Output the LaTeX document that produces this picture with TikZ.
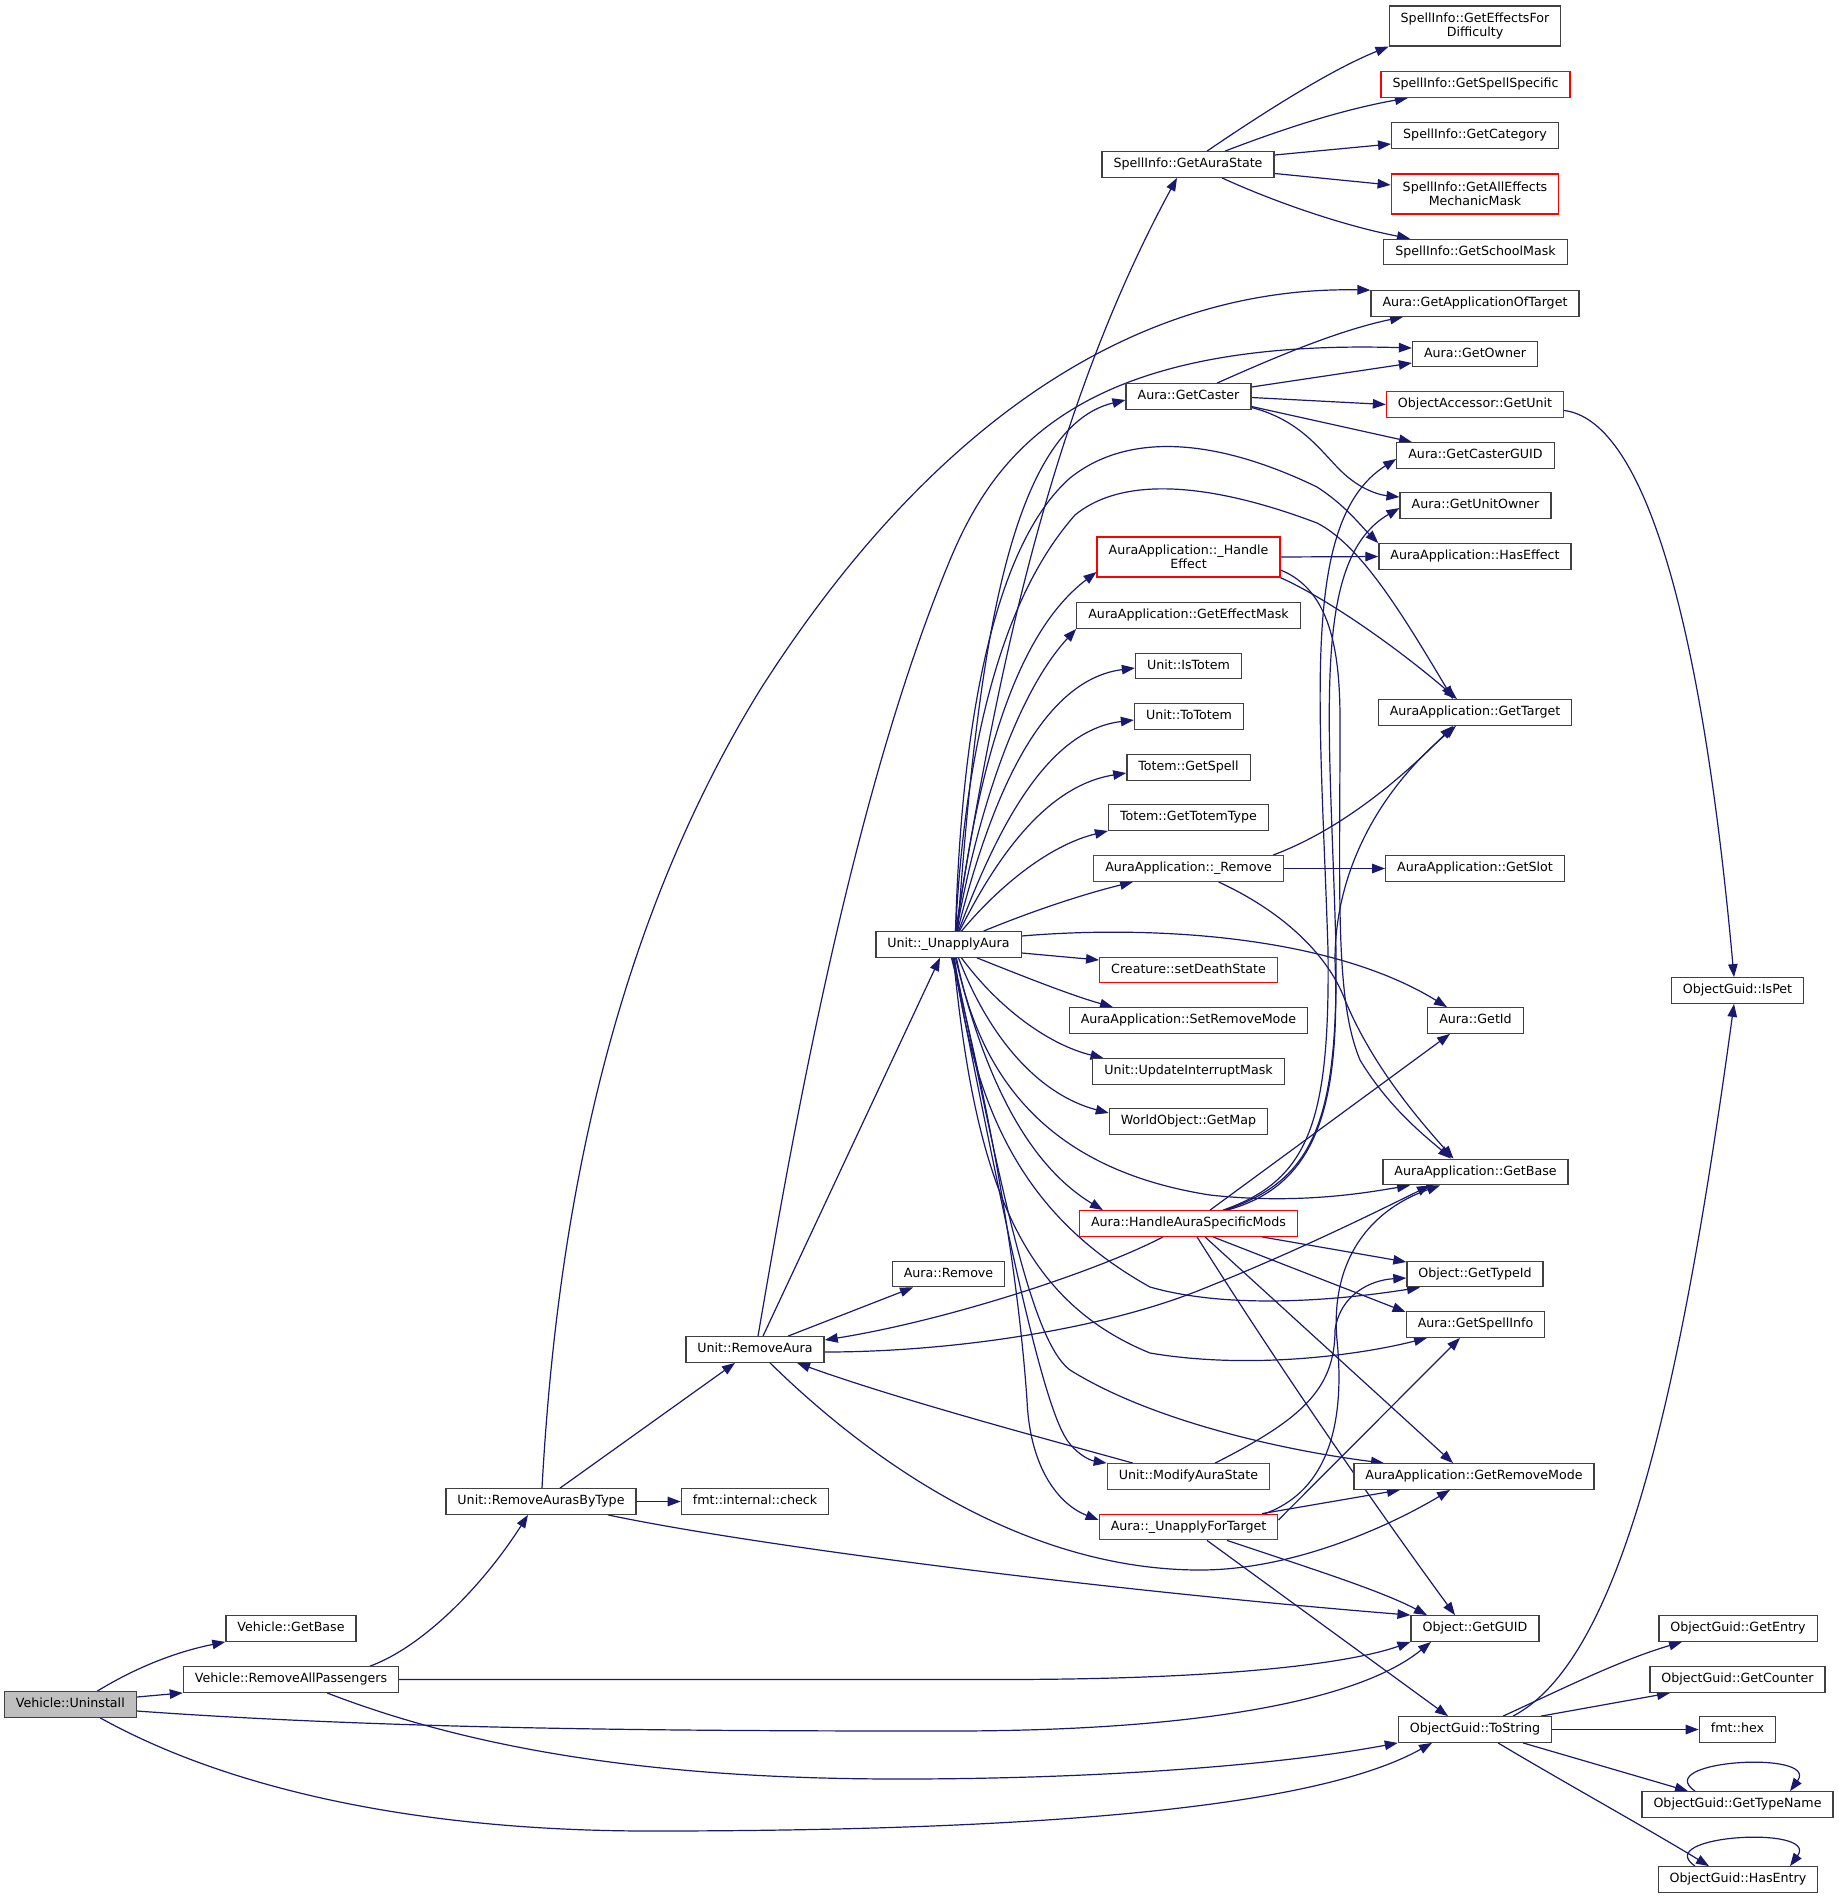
\documentclass[tikz,border=0pt]{standalone}
\usepackage{fontspec}
\setmainfont{DejaVu Sans}
\usetikzlibrary{arrows.meta,backgrounds}
\definecolor{navy}{HTML}{191970}
\definecolor{bgray}{HTML}{404040}
\definecolor{bred}{HTML}{FF0000}
\definecolor{gfill}{HTML}{BFBFBF}
\newcommand\dxfont{\fontsize{12.65pt}{14.5pt}\selectfont}
\tikzset{
 bx/.style={draw=bgray, line width=1.3pt, fill=white, inner xsep=11.5pt, inner ysep=0pt, font=\dxfont, align=center},
 box/.style={bx, minimum height=25.5pt, text height=9.5pt, text depth=2.7pt},
 rbox/.style={box, draw=bred},
 tbox/.style={bx, minimum height=40pt},
 trbox/.style={tbox, draw=bred},
 arr/.style={draw=navy, line width=1.2pt, -{Triangle[length=13pt,width=9.5pt]}},
}
\begin{document}
\begin{tikzpicture}[x=1pt,y=-1pt]
\useasboundingbox (0,0) rectangle (1839,1898);
% nodes
\node[box, fill=gfill] (uninst) at (70.3,1704.5) {Vehicle::Uninstall};
\node[box] (vgetbase) at (291,1628.5) {Vehicle::GetBase};
\node[box] (vrap) at (291,1679.5) {Vehicle::RemoveAllPassengers};
\node[box] (rabt) at (541,1501.5) {Unit::RemoveAurasByType};
\node[box] (fmtcheck) at (755,1501.5) {fmt::internal::check};
\node[box] (removeaura) at (755,1349.5) {Unit::RemoveAura};
\node[box] (auraremove) at (948.5,1274) {Aura::Remove};
\node[box] (unapply) at (948.5,944.5) {Unit::\_UnapplyAura};
\node[box] (getaurastate) at (1188,164.5) {SpellInfo::GetAuraState};
\node[box] (getcaster) at (1188.5,396.5) {Aura::GetCaster};
\node[trbox] (handleeffect) at (1188.5,557) {AuraApplication::\_Handle\\Effect};
\node[box] (geteffectmask) at (1188.5,615.5) {AuraApplication::GetEffectMask};
\node[box] (istotem) at (1188.5,666) {Unit::IsTotem};
\node[box] (tototem) at (1189,716.5) {Unit::ToTotem};
\node[box] (getspell) at (1188.5,767.5) {Totem::GetSpell};
\node[box] (gettotemtype) at (1188.5,817.5) {Totem::GetTotemType};
\node[rbox] (aaremove) at (1188.5,868.5) {AuraApplication::\_Remove};
\node[rbox] (setdeath) at (1188.5,970) {Creature::setDeathState};
\node[box] (setremovemode) at (1188.5,1020.5) {AuraApplication::SetRemoveMode};
\node[box] (updint) at (1188.5,1071.5) {Unit::UpdateInterruptMask};
\node[box] (getmap) at (1188.5,1121.5) {WorldObject::GetMap};
\node[rbox] (hasm) at (1188.5,1223.5) {Aura::HandleAuraSpecificMods};
\node[rbox] (modaura) at (1188.5,1476.5) {Unit::ModifyAuraState};
\node[rbox] (unapplyft) at (1188.5,1527) {Aura::\_UnapplyForTarget};
\node[tbox] (effdiff) at (1475,26) {SpellInfo::GetEffectsFor\\Difficulty};
\node[rbox] (spellspec) at (1475.5,84.5) {SpellInfo::GetSpellSpecific};
\node[box] (getcat) at (1475,135.5) {SpellInfo::GetCategory};
\node[trbox] (alleffmech) at (1475,194) {SpellInfo::GetAllEffects\\MechanicMask};
\node[box] (schoolmask) at (1475.5,252) {SpellInfo::GetSchoolMask};
\node[box] (appoftarget) at (1475,303.5) {Aura::GetApplicationOfTarget};
\node[box] (getowner) at (1475,354) {Aura::GetOwner};
\node[rbox] (getunit) at (1475,404.5) {ObjectAccessor::GetUnit};
\node[box] (castergu) at (1475.5,455.5) {Aura::GetCasterGUID};
\node[box] (unitowner) at (1475.5,505.5) {Aura::GetUnitOwner};
\node[box] (haseffect) at (1475,556.5) {AuraApplication::HasEffect};
\node[box] (gettarget) at (1475,712.5) {AuraApplication::GetTarget};
\node[box] (getslot) at (1475,868.5) {AuraApplication::GetSlot};
\node[box] (getid) at (1475.5,1020.5) {Aura::GetId};
\node[box] (getbase) at (1475.5,1172) {AuraApplication::GetBase};
\node[box] (gettypeid) at (1475,1274) {Object::GetTypeId};
\node[box] (getspellinfo) at (1475.5,1324.5) {Aura::GetSpellInfo};
\node[box] (getremovemode) at (1474,1476.5) {AuraApplication::GetRemoveMode};
\node[box] (getguid) at (1475,1628.5) {Object::GetGUID};
\node[box] (tostring) at (1475,1729.5) {ObjectGuid::ToString};
\node[box] (ispet) at (1737.5,990.5) {ObjectGuid::IsPet};
\node[box] (getentry) at (1738,1628.5) {ObjectGuid::GetEntry};
\node[box] (getcounter) at (1737.5,1679.5) {ObjectGuid::GetCounter};
\node[box] (hex) at (1737.5,1729.5) {fmt::hex};
\node[box] (gettypename) at (1737.5,1804.5) {ObjectGuid::GetTypeName};
\node[box] (hasentry) at (1738,1879.5) {ObjectGuid::HasEntry};
\begin{scope}[on background layer]
\fill[white] (0,0) rectangle (1839,1898);
% Vehicle::Uninstall
\draw[arr] ([xshift=27]uninst.north) .. controls (135,1668) and (175,1652) .. (vgetbase.south west);
\draw[arr] ([yshift=7.5]uninst.east) -- (vrap.south west);
\draw[arr] ([yshift=-6.5]uninst.east) .. controls (400,1730) and (700,1731) .. (950,1731) .. controls (1200,1731) and (1360,1700) .. ([xshift=-44]getguid.south);
\draw[arr] ([xshift=30]uninst.south) .. controls (230,1790) and (420,1831) .. (650,1831) .. controls (1100,1831) and (1330,1800) .. ([xshift=-43]tostring.south);
% Vehicle::RemoveAllPassengers
\draw[arr] ([xshift=36]vrap.south) .. controls (500,1760) and (700,1779) .. (900,1779) .. controls (1100,1779) and (1280,1765) .. (tostring.south west);
\draw[arr] ([xshift=79]vrap.north) .. controls (420,1648) and (480,1590) .. ([xshift=-13]rabt.south);
\draw[arr] (vrap.east) -- (1000,1679.5) .. controls (1250,1679.5) and (1360,1660) .. (getguid.south west);
% Unit::RemoveAurasByType
\draw[arr] (rabt.east) -- (fmtcheck.west);
\draw[arr] ([xshift=19]rabt.north) -- ([xshift=-20]removeaura.south);
\draw[arr] ([xshift=1]rabt.north) .. controls (555,1250) and (600,950) .. (760,690) .. controls (900,470) and (1100,285) .. (appoftarget.north west);
\draw[arr] ([xshift=67]rabt.south) .. controls (750,1545) and (1100,1590) .. (getguid.north west);
% Unit::RemoveAura
\draw[arr] ([xshift=33]removeaura.north) -- ([xshift=-35.5]auraremove.south);
\draw[arr] ([xshift=8]removeaura.north) -- ([xshift=-8.5]unapply.south);
\draw[arr] ([xshift=3]removeaura.north) .. controls (790,1150) and (850,800) .. (950,560) .. controls (995,452) and (1080,338) .. ([yshift=6]getowner.west);
\draw[arr] ([xshift=15]removeaura.south) .. controls (900,1490) and (1050,1570) .. (1200,1570) .. controls (1300,1570) and (1400,1520) .. ([xshift=-24]getremovemode.south);
\draw[arr] ([yshift=-2.5]removeaura.east) .. controls (950,1352) and (1100,1330) .. (1200,1290) .. controls (1300,1250) and (1380,1210) .. ([xshift=-45.5]getbase.south);
% Unit::_UnapplyAura
\draw[arr] ([xshift=7]unapply.north) .. controls (990,720) and (1040,430) .. ([xshift=-11]getaurastate.south);
\draw[arr] ([xshift=9]unapply.north) .. controls (975,700) and (1000,430) .. ([yshift=-3.5]getcaster.west);
\draw[arr] ([xshift=7]unapply.north) .. controls (962,700) and (1000,540) .. (1070,478) .. controls (1130,430) and (1220,440) .. (1317,487) .. controls (1345,505) and (1360,525) .. (haseffect.north west);
\draw[arr] ([xshift=7]unapply.north) .. controls (965,750) and (1000,600) .. (1075,515) .. controls (1130,470) and (1230,490) .. (1317,523) .. controls (1360,545) and (1400,610) .. ([xshift=-22]gettarget.north);
\draw[arr] ([xshift=8]unapply.north) .. controls (980,750) and (1020,630) .. ([yshift=-15]handleeffect.west);
\draw[arr] ([xshift=8]unapply.north) .. controls (980,800) and (1020,690) .. (geteffectmask.south west);
\draw[arr] ([xshift=9]unapply.north) .. controls (990,800) and (1040,680) .. ([yshift=-2]istotem.west);
\draw[arr] ([xshift=10]unapply.north) .. controls (1000,820) and (1050,730) .. ([yshift=-3.5]tototem.west);
\draw[arr] ([xshift=11]unapply.north) .. controls (1000,850) and (1050,785) .. ([yshift=-5.5]getspell.west);
\draw[arr] ([xshift=13]unapply.north) .. controls (1000,885) and (1050,845) .. (gettotemtype.south west);
\draw[arr] ([xshift=35]unapply.north) .. controls (1030,912) and (1080,895) .. ([xshift=-55.5]aaremove.south);
\draw[arr] ([yshift=-8.5]unapply.east) -- ([yshift=10]setdeath.west);
\draw[arr] ([yshift=8.5]unapply.east) .. controls (1150,925) and (1330,935) .. ([xshift=-28.5]getid.north);
\draw[arr] ([xshift=28.5]unapply.south) .. controls (1020,975) and (1070,995) .. ([xshift=-75.5]setremovemode.north);
\draw[arr] ([xshift=13]unapply.south) .. controls (1000,1010) and (1050,1045) .. ([xshift=-85]updint.north);
\draw[arr] ([xshift=10]unapply.south) .. controls (990,1040) and (1040,1095) .. ([yshift=8.5]getmap.west);
\draw[arr] ([xshift=8]unapply.south) .. controls (980,1080) and (1050,1170) .. (1210,1195) .. controls (1300,1205) and (1370,1192) .. ([xshift=-65.5]getbase.south);
\draw[arr] ([xshift=7]unapply.south) .. controls (980,1060) and (1020,1160) .. ([xshift=24]hasm.north west);
\draw[arr] ([xshift=6]unapply.south) .. controls (975,1120) and (1030,1220) .. (1150,1287) .. controls (1230,1310) and (1340,1300) .. ([xshift=-55]gettypeid.south);
\draw[arr] ([xshift=5]unapply.south) .. controls (975,1180) and (1020,1300) .. (1150,1353) .. controls (1250,1370) and (1360,1355) .. ([xshift=-48.5]getspellinfo.south);
\draw[arr] ([xshift=4]unapply.south) .. controls (1000,1200) and (1040,1400) .. (1067,1440) .. controls (1075,1452) and (1088,1460) .. (modaura.north west);
\draw[arr] ([xshift=3]unapply.south) .. controls (1000,1150) and (1020,1300) .. (1027,1400) .. controls (1030,1470) and (1060,1505) .. ([yshift=7]unapplyft.west);
\draw[arr] ([xshift=5]unapply.south) .. controls (1000,1180) and (1030,1340) .. (1070,1370) .. controls (1150,1420) and (1280,1450) .. ([xshift=-90]getremovemode.north);
% Aura::GetCaster
\draw[arr] ([xshift=28.5]getcaster.north) .. controls (1280,355) and (1340,330) .. ([xshift=-72]appoftarget.south);
\draw[arr] ([yshift=9.5]getcaster.east) -- ([yshift=-9]getowner.west);
\draw[arr] ([yshift=-1]getcaster.east) -- (getunit.west);
\draw[arr] ([yshift=-10]getcaster.east) -- ([xshift=-63.5]castergu.north);
\draw[arr] ([yshift=-11]getcaster.east) .. controls (1300,420) and (1320,450) .. (1340,470) .. controls (1360,490) and (1380,495) .. ([yshift=8.5]unitowner.west);
% SpellInfo::GetAuraState
\draw[arr] ([xshift=19]getaurastate.north) .. controls (1260,115) and (1330,70) .. (effdiff.south west);
\draw[arr] ([xshift=37]getaurastate.north) .. controls (1280,130) and (1340,110) .. ([xshift=-67.5]spellspec.south);
\draw[arr] ([yshift=9.5]getaurastate.east) -- ([yshift=-8.5]getcat.west);
\draw[arr] ([yshift=-9]getaurastate.east) -- ([yshift=9]alleffmech.west);
\draw[arr] ([xshift=34]getaurastate.south) .. controls (1270,200) and (1340,225) .. ([xshift=-65.5]schoolmask.north);
% ObjectAccessor::GetUnit
\draw[arr] ([yshift=-6]getunit.east) .. controls (1640,420) and (1700,600) .. ([xshift=-3.5]ispet.north);
% ObjectGuid::ToString
\draw[arr] ([xshift=38]tostring.north) .. controls (1620,1660) and (1680,1400) .. ([xshift=-3.5]ispet.south);
\draw[arr] ([xshift=28]tostring.north) .. controls (1560,1690) and (1620,1660) .. ([xshift=-56]getentry.south);
\draw[arr] ([xshift=66]tostring.north) -- ([xshift=-67.5]getcounter.south);
\draw[arr] (tostring.east) -- (hex.west);
\draw[arr] ([xshift=48]tostring.south) -- ([xshift=-49.5]gettypename.north);
\draw[arr] ([xshift=23]tostring.south) .. controls (1560,1780) and (1650,1830) .. ([xshift=-29]hasentry.north);
\draw[arr] ([xshift=-42.5]gettypename.north) .. controls (1650,1760) and (1820,1750) .. ([xshift=52.5]gettypename.north);
\draw[arr] ([xshift=-43]hasentry.north) .. controls (1650,1835) and (1820,1825) .. ([xshift=52]hasentry.north);
% AuraApplication::_HandleEffect
\draw[arr] (handleeffect.east) -- (haseffect.west);
\draw[arr] (handleeffect.south east) .. controls (1330,600) and (1400,650) .. ([xshift=-18]gettarget.north);
\draw[arr] ([yshift=-13]handleeffect.east) .. controls (1330,590) and (1340,650) .. (1340,720) .. controls (1340,900) and (1335,1000) .. (1360,1060) .. controls (1390,1110) and (1430,1140) .. ([xshift=-24.5]getbase.north);
% AuraApplication::_Remove
\draw[arr] ([xshift=84.5]aaremove.north) .. controls (1340,830) and (1400,780) .. ([xshift=-22]gettarget.south);
\draw[arr] (aaremove.east) -- (getslot.west);
\draw[arr] ([xshift=30]aaremove.south) .. controls (1290,915) and (1330,960) .. (1345,1000) .. controls (1370,1060) and (1410,1110) .. ([xshift=-22]getbase.north);
% Aura::HandleAuraSpecificMods
\draw[arr] ([xshift=-25.5]hasm.south) .. controls (1100,1270) and (950,1320) .. ([yshift=9.5]removeaura.east);
\draw[arr] ([xshift=34.5]hasm.north) .. controls (1310,1180) and (1330,1120) .. (1328,950) .. controls (1320,700) and (1300,520) .. ([yshift=-3.5]castergu.west);
\draw[arr] ([xshift=36.5]hasm.north) .. controls (1315,1180) and (1338,1120) .. (1336,950) .. controls (1330,720) and (1310,560) .. ([yshift=-2.5]unitowner.west);
\draw[arr] ([xshift=38.5]hasm.north) .. controls (1320,1185) and (1340,1100) .. (1335,960) .. controls (1335,870) and (1380,790) .. ([xshift=-19]gettarget.south);
\draw[arr] ([xshift=21.5]hasm.north) -- ([xshift=-25.5]getid.south);
\draw[arr] ([xshift=73.5]hasm.south) -- ([yshift=12]gettypeid.west);
\draw[arr] ([xshift=24.5]hasm.south) -- ([yshift=12.5]getspellinfo.west);
\draw[arr] ([xshift=16.5]hasm.south) -- ([xshift=-21]getremovemode.north);
\draw[arr] ([xshift=8.5]hasm.south) .. controls (1300,1400) and (1400,1540) .. ([xshift=-20]getguid.north);
% Unit::ModifyAuraState
\draw[arr] ([xshift=-55.5]modaura.north) .. controls (1050,1440) and (900,1400) .. ([xshift=42]removeaura.south);
\draw[arr] ([xshift=26.5]modaura.north) .. controls (1300,1420) and (1335,1390) .. (1335,1330) .. controls (1340,1295) and (1370,1280) .. ([yshift=-4]gettypeid.west);
% Aura::_UnapplyForTarget
\draw[arr] ([xshift=73.5]unapplyft.north) -- ([xshift=-74]getremovemode.south);
\draw[arr] ([yshift=7]unapplyft.east) -- ([xshift=-15.5]getspellinfo.south);
\draw[arr] ([xshift=76.5]unapplyft.north) .. controls (1330,1490) and (1345,1420) .. (1337,1340) .. controls (1330,1260) and (1370,1210) .. ([xshift=-35.5]getbase.south);
\draw[arr] ([xshift=38.5]unapplyft.south) .. controls (1300,1565) and (1380,1590) .. ([xshift=-48]getguid.north);
\draw[arr] ([xshift=18.5]unapplyft.south) -- ([xshift=-27]tostring.north);
\end{scope}
\end{tikzpicture}
\end{document}
